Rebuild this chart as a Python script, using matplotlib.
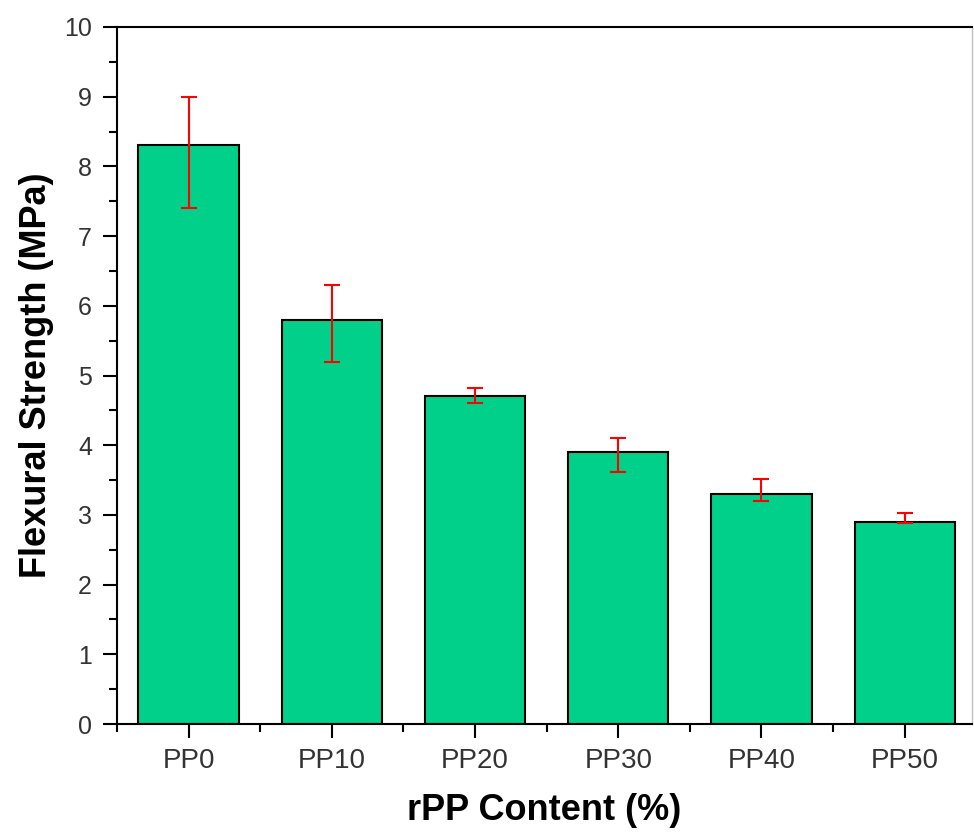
import matplotlib.pyplot as plt
from matplotlib.ticker import MultipleLocator

plt.rcParams['font.family'] = ['Liberation Sans', 'DejaVu Sans']

# 弯曲强度数据
samples = ['PP0', 'PP10', 'PP20', 'PP30', 'PP40', 'PP50']
strength = [8.3, 5.8, 4.7, 3.9, 3.3, 2.9]
err_low = [0.9, 0.6, 0.1, 0.28, 0.1, 0.02]
err_high = [0.7, 0.5, 0.12, 0.2, 0.22, 0.13]

fig = plt.figure(figsize=(9.74, 8.32), dpi=100)
ax = fig.add_axes([117 / 974, 1 - 724 / 832, (972 - 117) / 974, (724 - 27) / 832])

x = range(len(samples))
ax.bar(x, strength, width=0.7, color='#00d08a', edgecolor='black', linewidth=1.5, zorder=2)
ax.errorbar(x, strength, yerr=[err_low, err_high], fmt='none', ecolor='red',
            elinewidth=1.5, capsize=5.5, capthick=1.5, zorder=3)

ax.set_xlim(-0.5, 5.47)
ax.set_ylim(0, 10)
ax.set_xticks(list(x))
ax.set_xticklabels(samples)
ax.xaxis.set_minor_locator(MultipleLocator(1, offset=0.5))
ax.yaxis.set_major_locator(MultipleLocator(1))
ax.yaxis.set_minor_locator(MultipleLocator(0.5))

for s in ['left', 'top', 'bottom']:
    ax.spines[s].set_linewidth(1.5)
ax.spines['right'].set_color('#c0c0c0')
ax.spines['right'].set_linewidth(1.0)

ax.tick_params(axis='both', which='major', direction='out', length=10, width=1.5, colors='black')
ax.tick_params(axis='both', which='minor', direction='out', length=5.5, width=1.5, colors='black')
ax.tick_params(axis='y', which='major', labelsize=18, pad=8, labelcolor='#333333')
ax.tick_params(axis='x', which='major', labelsize=20, pad=7, labelcolor='#333333')

ax.set_xlabel('rPP Content (%)', fontsize=26, fontweight='bold', labelpad=14)
ax.set_ylabel('Flexural Strength (MPa)', fontsize=26, fontweight='bold', labelpad=7)

fig.savefig('out.png', dpi=100)
